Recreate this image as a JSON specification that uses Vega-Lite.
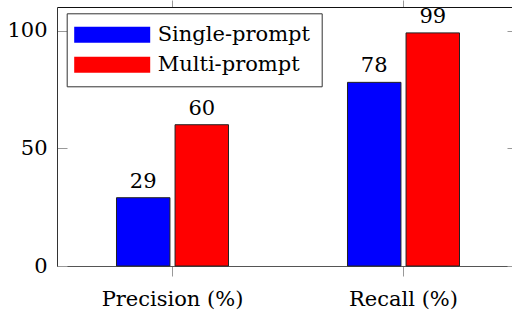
{
  "$schema": "https://vega.github.io/schema/vega-lite/v6.json",
  "width": 455,
  "height": 259,
  "autosize": {"type": "none"},
  "padding": {"left": 57, "top": 7, "right": 0, "bottom": 45},
  "background": "white",
  "config": {
    "font": "DejaVu Serif",
    "view": {"stroke": null},
    "axis": {"grid": false, "labelFont": "DejaVu Serif", "labelFontSize": 21, "labelColor": "black", "tickColor": "#999", "domainColor": "#333", "title": null},
    "legend": {"labelFont": "DejaVu Serif"}
  },
  "data": {"values": [
    {"metric": "Precision (%)", "prompt": "Single-prompt", "value": 29},
    {"metric": "Precision (%)", "prompt": "Multi-prompt", "value": 60},
    {"metric": "Recall (%)", "prompt": "Single-prompt", "value": 78},
    {"metric": "Recall (%)", "prompt": "Multi-prompt", "value": 99}
  ]},
  "layer": [
    {
      "encoding": {
        "x": {"field": "metric", "type": "nominal", "sort": ["Precision (%)", "Recall (%)"],
          "scale": {"range": [0, 462], "paddingInner": 0.493, "paddingOuter": 0.2465},
          "axis": {"orient": "bottom", "labelAngle": 0, "tickSize": 10, "labelPadding": 12, "domainColor": "#555"}},
        "xOffset": {"field": "prompt", "type": "nominal", "sort": ["Single-prompt", "Multi-prompt"],
          "scale": {"paddingInner": 0.087, "paddingOuter": 0.0435}},
        "y": {"field": "value", "type": "quantitative", "scale": {"domain": [0, 110], "nice": false},
          "axis": {"orient": "left", "values": [0, 50, 100], "tickSize": -10, "labelPadding": 20}}
      },
      "layer": [
        {
          "mark": {"type": "bar", "stroke": "#222", "strokeWidth": 1},
          "encoding": {
            "color": {"field": "prompt", "type": "nominal", "sort": ["Single-prompt", "Multi-prompt"],
              "scale": {"domain": ["Single-prompt", "Multi-prompt"], "range": ["#0000ff", "#ff0000"]},
              "legend": {
                "orient": "none", "legendX": 9.7, "legendY": 6.3, "title": null,
                "symbolType": "M-1.75,-1H7.75V1H-1.75Z", "symbolSize": 256, "symbolStrokeWidth": 0,
                "labelFontSize": 21, "labelColor": "black", "labelExpr": "datum.label + ' '",
                "labelOffset": 59, "rowPadding": 8, "padding": 11,
                "strokeColor": "#333", "fillColor": "white"
              }
            }
          }
        },
        {
          "mark": {"type": "text", "baseline": "alphabetic", "dy": -10, "fontSize": 21, "font": "DejaVu Serif", "color": "black"},
          "encoding": {"text": {"field": "value", "type": "quantitative"}}
        }
      ]
    },
    {
      "mark": {"type": "bar", "opacity": 0},
      "encoding": {
        "x": {"field": "metric", "type": "nominal", "sort": ["Precision (%)", "Recall (%)"],
          "scale": {"range": [0, 462], "paddingInner": 0.493, "paddingOuter": 0.2465},
          "axis": {"orient": "top", "labels": false, "tickSize": 7, "domainColor": "#111"}},
        "y": {"field": "value", "type": "quantitative", "scale": {"domain": [0, 110], "nice": false},
          "axis": {"orient": "right", "labels": false, "values": [0, 50, 100], "tickSize": -12, "offset": 7, "domain": false}}
      }
    }
  ],
  "resolve": {"scale": {"x": "independent", "y": "independent"}, "axis": {"x": "independent", "y": "independent"}}
}
